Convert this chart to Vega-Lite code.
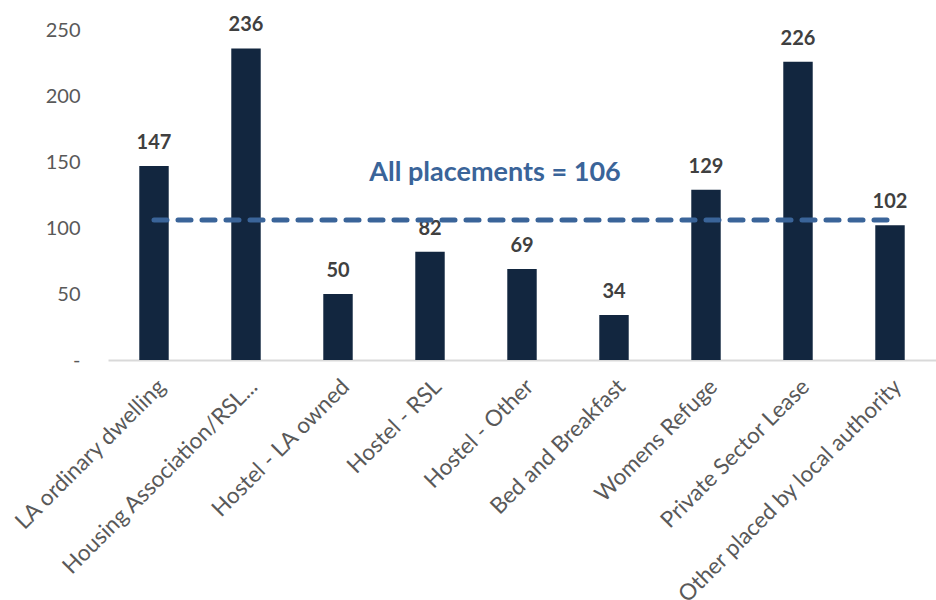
{
  "$schema": "https://vega.github.io/schema/vega-lite/v6.json",
  "autosize": "none",
  "width": 828,
  "height": 330,
  "padding": {"left": 108, "top": 30, "right": 0, "bottom": 240},
  "background": "white",
  "config": {"view": {"stroke": null}, "font": "Lato"},
  "data": {
    "values": [
      {"cat": "LA ordinary dwelling", "v": 147, "avg": 106},
      {"cat": "Housing Association/RSL...", "v": 236, "avg": 106},
      {"cat": "Hostel - LA owned", "v": 50, "avg": 106},
      {"cat": "Hostel - RSL", "v": 82, "avg": 106},
      {"cat": "Hostel - Other", "v": 69, "avg": 106},
      {"cat": "Bed and Breakfast", "v": 34, "avg": 106},
      {"cat": "Womens Refuge", "v": 129, "avg": 106},
      {"cat": "Private Sector Lease", "v": 226, "avg": 106},
      {"cat": "Other placed by local authority", "v": 102, "avg": 106}
    ]
  },
  "encoding": {
    "x": {
      "field": "cat", "type": "nominal", "sort": null,
      "scale": {"paddingInner": 0.68, "paddingOuter": 0.34},
      "axis": {
        "title": null, "labelAngle": -45, "labelFontSize": 22.5, "labelColor": "#595959",
        "labelPadding": 15, "ticks": false, "domainColor": "#d9d9d9", "domainWidth": 2,
        "labelLimit": 500, "labelFont": "Lato"
      }
    }
  },
  "layer": [
    {
      "mark": {"type": "bar", "color": "#12263F"},
      "encoding": {
        "y": {
          "field": "v", "type": "quantitative",
          "scale": {"domain": [0, 250], "nice": false},
          "axis": {
            "title": null, "grid": false, "domain": false, "ticks": false,
            "values": [0, 50, 100, 150, 200, 250],
            "labelExpr": "datum.value == 0 ? '-' : datum.label",
            "labelFontSize": 20, "labelColor": "#595959", "labelPadding": 28
          }
        }
      }
    },
    {
      "mark": {"type": "text", "baseline": "alphabetic", "dy": -17, "fontSize": 20, "fontWeight": "bold", "color": "#404040"},
      "encoding": {
        "y": {"field": "v", "type": "quantitative"},
        "text": {"field": "v", "type": "quantitative"}
      }
    },
    {
      "mark": {"type": "line", "color": "#3A6499", "strokeWidth": 5, "strokeDash": [13, 11], "strokeCap": "round"},
      "encoding": {
        "y": {"field": "avg", "type": "quantitative"}
      }
    },
    {
      "transform": [{"filter": "datum.cat == 'Hostel - Other'"}],
      "mark": {"type": "text", "dx": -27, "dy": -47, "fontSize": 27, "fontWeight": "bold", "color": "#3A6499", "baseline": "middle"},
      "encoding": {
        "y": {"field": "avg", "type": "quantitative"},
        "text": {"value": "All placements = 106"}
      }
    }
  ]
}
